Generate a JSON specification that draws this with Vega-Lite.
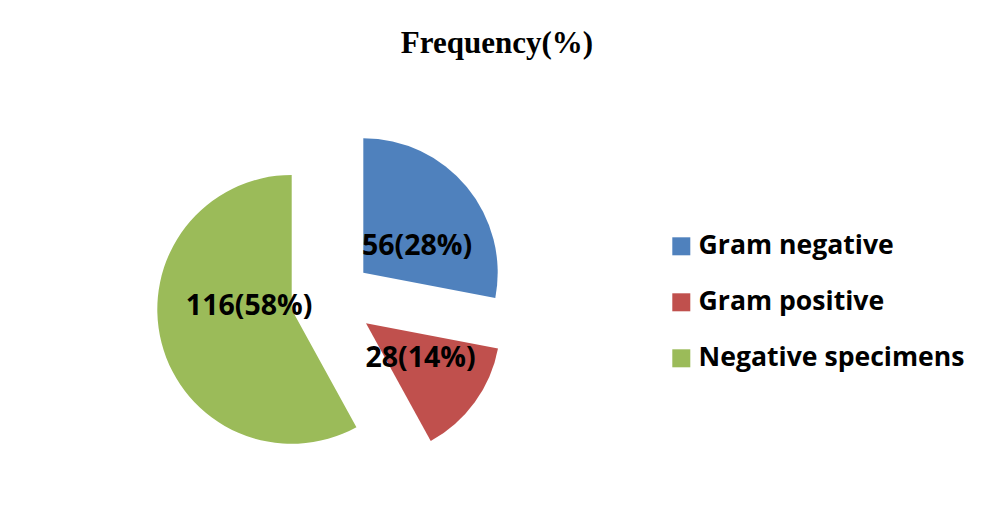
{
  "$schema": "https://vega.github.io/schema/vega-lite/v6.json",
  "width": 663,
  "height": 466,
  "autosize": {"type": "none"},
  "padding": {"left": 0, "top": 66, "right": 325, "bottom": 0},
  "background": "white",
  "title": {"text": "Frequency(%)", "font": "Liberation Serif", "fontSize": 31, "fontWeight": "bold", "color": "black", "anchor": "middle", "dx": 165.5, "baseline": "alphabetic", "offset": -18},
  "data": {"values": [
    {"category": "Gram negative", "count": 56, "label": "56(28%)"},
    {"category": "Gram positive", "count": 28, "label": "28(14%)"},
    {"category": "Negative specimens", "count": 116, "label": "116(58%)"}
  ]},
  "encoding": {"theta": {"field": "count", "type": "quantitative", "stack": true}},
  "layer": [
    {"mark": {"type": "arc", "outerRadius": 134.4, "xOffset": 31.8, "yOffset": -26.3},
     "encoding": {
       "color": {"field": "category", "type": "nominal",
         "scale": {"domain": ["Gram negative", "Gram positive", "Negative specimens"], "range": ["#4F81BD", "#C0504D", "#9BBB59"]},
         "legend": {"title": null, "orient": "none", "legendX": 668, "legendY": 167, "symbolType": "square", "symbolSize": 324, "symbolStrokeWidth": 0, "labelFont": "Open Sans", "labelFontSize": 26.6, "labelFontWeight": "bold", "labelColor": "black", "labelOffset": 4, "rowPadding": 29, "labelLimit": 400}},
       "opacity": {"condition": {"test": "datum.category === 'Gram negative'", "value": 1}, "value": 0}}},
    {"mark": {"type": "arc", "outerRadius": 134.4, "xOffset": 34.5, "yOffset": 24.3},
     "encoding": {
       "color": {"field": "category", "type": "nominal"},
       "opacity": {"condition": {"test": "datum.category === 'Gram positive'", "value": 1}, "value": 0}}},
    {"mark": {"type": "arc", "outerRadius": 134.4, "xOffset": -39.8, "yOffset": 10.4},
     "encoding": {
       "color": {"field": "category", "type": "nominal"},
       "opacity": {"condition": {"test": "datum.category === 'Negative specimens'", "value": 1}, "value": 0}}},
    {"mark": {"type": "text", "radius": 60, "xOffset": 31.8, "yOffset": -26.3, "dx": 7.5, "dy": 12, "font": "Open Sans", "fontSize": 28.5, "fontWeight": "bold", "color": "black"},
     "encoding": {
       "text": {"field": "label"},
       "order": {"field": "category", "type": "ordinal", "sort": "ascending"},
       "opacity": {"condition": {"test": "datum.category === 'Gram negative'", "value": 1}, "value": 0}}},
    {"mark": {"type": "text", "radius": 64, "xOffset": 34.5, "yOffset": 24.3, "dx": 2.7, "dy": -2.9, "font": "Open Sans", "fontSize": 28.5, "fontWeight": "bold", "color": "black"},
     "encoding": {
       "text": {"field": "label"},
       "order": {"field": "category", "type": "ordinal", "sort": "ascending"},
       "opacity": {"condition": {"test": "datum.category === 'Gram positive'", "value": 1}, "value": 0}}},
    {"mark": {"type": "text", "radius": 44, "xOffset": -39.8, "yOffset": 10.4, "dx": 0, "dy": -14, "font": "Open Sans", "fontSize": 28.5, "fontWeight": "bold", "color": "black"},
     "encoding": {
       "text": {"field": "label"},
       "order": {"field": "category", "type": "ordinal", "sort": "ascending"},
       "opacity": {"condition": {"test": "datum.category === 'Negative specimens'", "value": 1}, "value": 0}}}
  ],
  "config": {"view": {"stroke": null}}
}
